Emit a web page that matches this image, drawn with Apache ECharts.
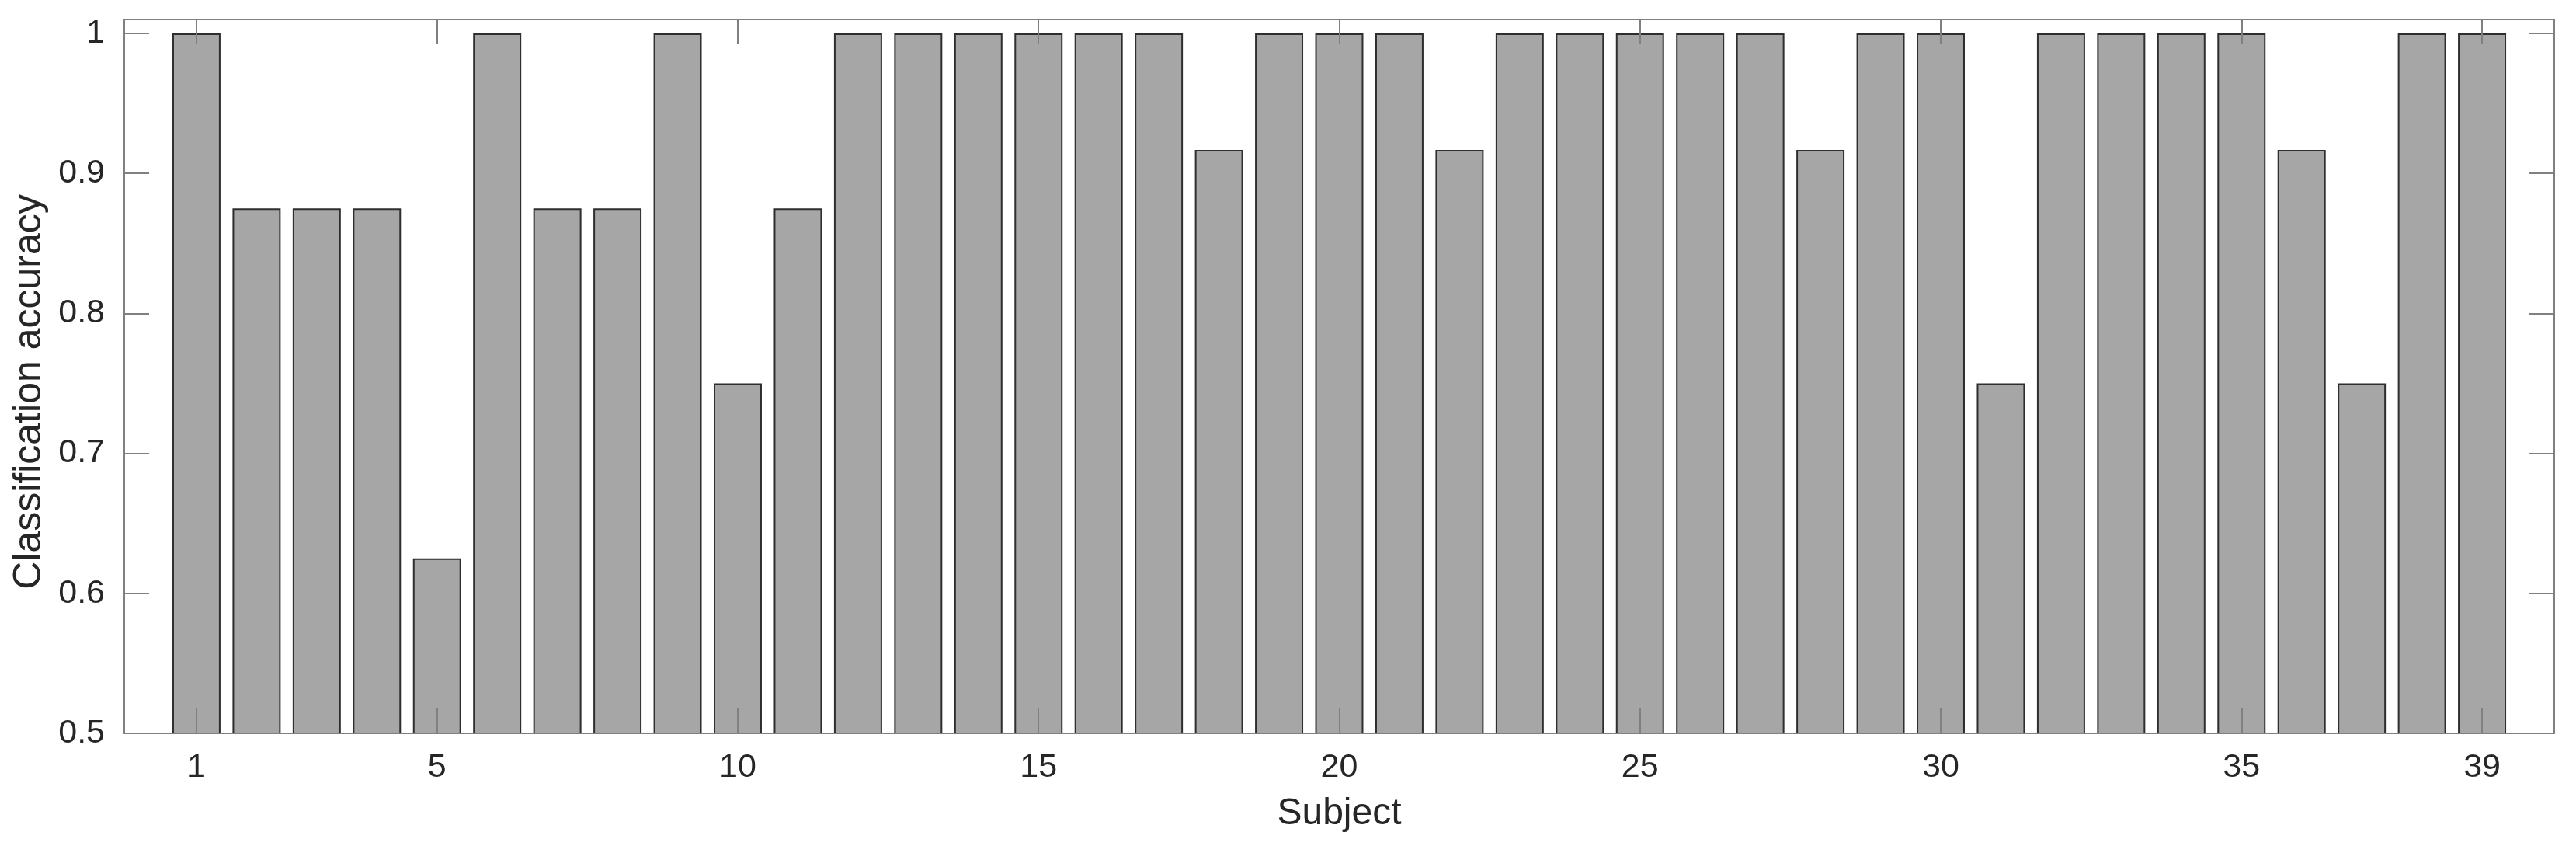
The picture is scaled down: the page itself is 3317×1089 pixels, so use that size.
<!DOCTYPE html>
<html>
<head>
<meta charset="utf-8">
<script src="https://cdn.jsdelivr.net/npm/echarts@6/dist/echarts.min.js"></script>
<style>
html,body{margin:0;padding:0;background:#fff;}
#chart{width:3317px;height:1089px;}
</style>
</head>
<body>
<div id="chart"></div>
<script>
const subjects = [1,2,3,4,5,6,7,8,9,10,11,12,13,14,15,16,17,18,19,20,21,22,23,24,25,26,27,28,29,30,31,32,33,34,35,36,37,38,39];
const accuracy = [1,0.875,0.875,0.875,0.625,1,0.875,0.875,1,0.75,0.875,1,1,1,1,1,1,0.9167,1,1,1,0.9167,1,1,1,1,1,0.9167,1,1,0.75,1,1,1,1,0.9167,0.75,1,1];
const xTicks = [1,5,10,15,20,25,30,35,39];
const yTicks = [0.5,0.6,0.7,0.8,0.9,1];

const FONT = 'Liberation Sans';
const TXT = '#262626';
const AX = '#808080';

const chart = echarts.init(document.getElementById('chart'), null, {renderer:'canvas'});

const tickStyle = {show:true, inside:true, length:32, lineStyle:{color:AX, width:2}};
const lineStyle = {show:true, onZero:false, lineStyle:{color:AX, width:2}};

chart.setOption({
  animation:false,
  backgroundColor:'#fff',
  grid:{left:160, right:28, top:25, bottom:145, containLabel:false},
  xAxis:[{
    type:'value', position:'bottom', min:-0.2, max:40.2, z:5,
    axisLine:lineStyle,
    axisTick:Object.assign({customValues:xTicks}, tickStyle),
    axisLabel:{customValues:xTicks, fontFamily:FONT, fontSize:43, color:TXT, margin:23},
    splitLine:{show:false},
    name:'Subject', nameLocation:'middle', nameGap:80,
    nameTextStyle:{fontFamily:FONT, fontSize:48, color:TXT}
  },{
    type:'value', position:'top', min:-0.2, max:40.2, z:5,
    axisLine:lineStyle,
    axisTick:Object.assign({customValues:xTicks}, tickStyle),
    axisLabel:{show:false},
    splitLine:{show:false}
  }],
  yAxis:[{
    type:'value', position:'left', min:0.5, max:1.01, z:5,
    axisLine:lineStyle,
    axisTick:Object.assign({customValues:yTicks}, tickStyle),
    axisLabel:{customValues:yTicks, fontFamily:FONT, fontSize:43, color:TXT, margin:25,
      formatter:v => String(+(+v).toFixed(2))},
    splitLine:{show:false},
    name:'Classification accuracy', nameLocation:'middle', nameGap:97, nameRotate:90,
    nameTextStyle:{fontFamily:FONT, fontSize:50, color:TXT, padding:[0,40,0,0]}
  },{
    type:'value', position:'right', min:0.5, max:1.01, z:5,
    axisLine:lineStyle,
    axisTick:Object.assign({customValues:yTicks}, tickStyle),
    axisLabel:{show:false},
    splitLine:{show:false}
  }],
  series:[{
    type:'bar',
    xAxisIndex:0, yAxisIndex:0,
    data:subjects.map((s,i)=>[s, accuracy[i]]),
    barWidth:'80%',
    clip:true,
    itemStyle:{color:'#a6a6a6', borderColor:'#2e2e2e', borderWidth:2},
    z:1
  }]
});
</script>
</body>
</html>
